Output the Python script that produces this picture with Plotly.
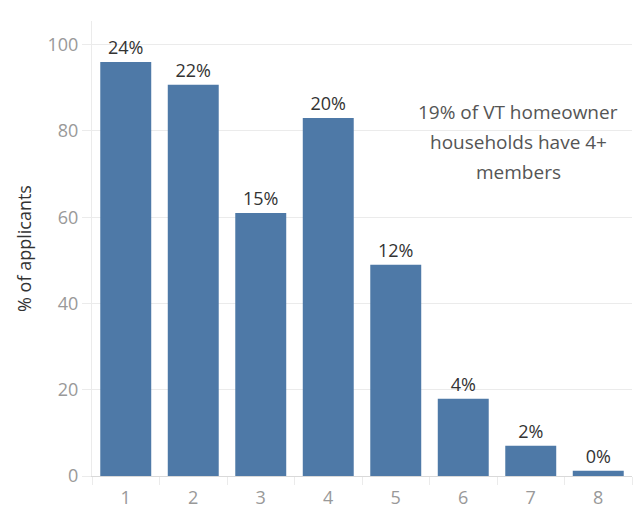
import plotly.graph_objects as go

categories = ["1", "2", "3", "4", "5", "6", "7", "8"]
values = [96, 90.7, 61, 83, 49, 17.9, 7, 1.2]
labels = ["24%", "22%", "15%", "20%", "12%", "4%", "2%", "0%"]
y_ticks = [0, 20, 40, 60, 80, 100]
note_lines = ["19% of VT homeowner", "households have 4+", "members"]

FONT = "Open Sans"
GRID = "#ebebeb"

fig = go.Figure()
fig.add_trace(go.Bar(
    x=categories, y=values, text=labels, textposition="outside",
    textfont=dict(family=FONT, size=18, color="#333333"),
    marker=dict(color="#4e79a7", line=dict(width=0)),
    cliponaxis=False, hoverinfo="skip", textangle=0,
))

fig.update_layout(
    width=636, height=510,
    margin=dict(l=92, r=4, t=21, b=34),
    paper_bgcolor="white", plot_bgcolor="white",
    bargap=0.245, showlegend=False,
    font=dict(family=FONT),
)
fig.update_xaxes(
    type="category", showgrid=False, showline=True, linecolor="#d9d9d9", linewidth=1,
    ticks="outside", tickson="boundaries", ticklen=8, tickcolor=GRID,
    ticklabelstandoff=5, automargin=False,
    tickfont=dict(family=FONT, size=18, color="#999999"),
)
fig.update_yaxes(
    range=[0, 105.5], tickvals=y_ticks, showgrid=True, gridcolor=GRID,
    showline=True, linecolor=GRID, zeroline=False,
    ticks="outside", ticklen=9, tickcolor=GRID,
    tickfont=dict(family=FONT, size=18, color="#999999"),
    title=dict(text="% of applicants", font=dict(family=FONT, size=18, color="#333333"), standoff=11),
)
# white backdrop behind the note (hides gridline like the original)
fig.add_shape(type="rect", xref="paper", yref="paper", x0=0.585, x1=0.99, y0=0.62, y1=0.85,
              fillcolor="white", line=dict(width=0), layer="below")
for i, line in enumerate(note_lines):
    fig.add_annotation(
        x=0.789, y=0.800 - i * 0.0655, xref="paper", yref="paper", text=line, showarrow=False,
        xanchor="center", yanchor="middle",
        font=dict(family=FONT, size=19, color="#555555"),
    )
fig.write_html("out.html")
